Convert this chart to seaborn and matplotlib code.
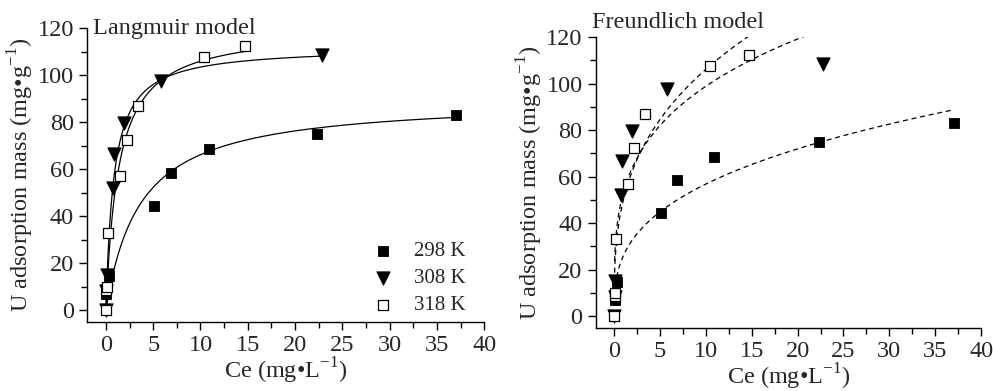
import numpy as np
import pandas as pd
import matplotlib
matplotlib.use("Agg")
import matplotlib.pyplot as plt
import seaborn as sns
from matplotlib.ticker import MultipleLocator

# measured points (Ce in mg/L, q in mg/g)
ce_298 = [0.05, 0.35, 5.1, 6.9, 10.9, 22.3, 37.0]
q_298 = [7, 14.5, 44.5, 58.5, 68.5, 75, 83]
ce_308 = [0.0, 0.05, 0.1, 0.75, 0.85, 1.9, 5.8, 22.8]
q_308 = [0, 8, 15, 52, 66.5, 79.5, 97.5, 108.5]
ce_318 = [0.0, 0.05, 0.1, 0.25, 1.5, 2.2, 3.4, 10.4, 14.7]
q_318 = [0, 8.5, 10, 33, 57, 72.5, 87, 107.5, 112.5]
temps = ["298 K", "308 K", "318 K"]

# fitted parameters
langmuir_qm = [90, 112, 120]
langmuir_k = [0.277, 1.2, 0.75]
freund_kf = [25.9, 53.1, 49.9]
freund_inv_n = [0.341, 0.27, 0.328]

df = pd.concat([
    pd.DataFrame({"Ce": ce_298, "q": q_298, "T": "298 K"}),
    pd.DataFrame({"Ce": ce_308, "q": q_308, "T": "308 K"}),
    pd.DataFrame({"Ce": ce_318, "q": q_318, "T": "318 K"}),
])

sns.set_style("ticks")
plt.rcParams["font.family"] = ["Liberation Serif", "DejaVu Serif"]
plt.rcParams["mathtext.fontset"] = "custom"
plt.rcParams["mathtext.rm"] = "Liberation Serif"

fig = plt.figure(figsize=(9.93, 3.91), dpi=100)
ax1 = fig.add_axes([0.0876, 0.1765, 0.4, 0.7519])
ax2 = fig.add_axes([0.600, 0.162, 0.388, 0.743])

marker_style = {
    "298 K": dict(marker="s", color="black", edgecolor="black", s=60),
    "308 K": dict(marker="v", color="black", edgecolor="black", s=90),
    "318 K": dict(marker="s", facecolor="white", edgecolor="black", s=60, linewidth=0.9),
}

for ax in (ax1, ax2):
    for i, t in enumerate(temps):
        sub = df[df["T"] == t]
        sns.scatterplot(data=sub, x="Ce", y="q", ax=ax, label=t, zorder=3,
                        **marker_style[t])
        cmax = sub["Ce"].max()
        if ax is ax1:
            c = np.linspace(0, cmax, 300)
            fit = langmuir_qm[i] * langmuir_k[i] * c / (1 + langmuir_k[i] * c)
            sns.lineplot(x=c, y=fit, ax=ax, color="black", linewidth=0.9,
                         sort=False, zorder=2)
        else:
            c = np.linspace(sub["Ce"][sub["Ce"] > 0].min(), cmax, 300)
            fit = freund_kf[i] * c ** freund_inv_n[i]
            sns.lineplot(x=c, y=fit, ax=ax, color="black", linewidth=0.9,
                         linestyle=(0, (4, 3)), sort=False, zorder=2)

    ax.set_xlim(-2, 40)
    ax.set_ylim(-5, 120)
    ax.xaxis.set_major_locator(MultipleLocator(5))
    ax.xaxis.set_minor_locator(MultipleLocator(2.5))
    ax.yaxis.set_major_locator(MultipleLocator(20))
    ax.yaxis.set_minor_locator(MultipleLocator(10))
    ax.tick_params(which="major", direction="out", length=6, width=1,
                   labelsize=17.5, color="black")
    ax.tick_params(which="minor", direction="out", length=4, width=1, color="black")
    for side in ("left", "bottom"):
        ax.spines[side].set_linewidth(1)
        ax.spines[side].set_color("black")
    sns.despine(ax=ax)
    ax.set_xlabel("Ce (mg\u2022L$^{\\mathregular{-1}}$)", fontsize=17.5, labelpad=0)
    ax.set_ylabel("U adsorption mass (mg\u2022g$^{\\mathregular{-1}}$)", fontsize=17.5,
                  labelpad=1)

ax1.legend(loc="lower right", frameon=False, fontsize=15, handletextpad=0.5,
           labelspacing=0.35, bbox_to_anchor=(1.0, -0.04))
ax2.get_legend().remove()

ax1.text(0.015, 1.035, "Langmuir model", transform=ax1.transAxes, fontsize=17.5,
         va="top", ha="left")
ax2.text(-0.01, 1.015, "Freundlich model", transform=ax2.transAxes, fontsize=17.5,
         va="bottom", ha="left")

fig.savefig("out.png", dpi=100)
